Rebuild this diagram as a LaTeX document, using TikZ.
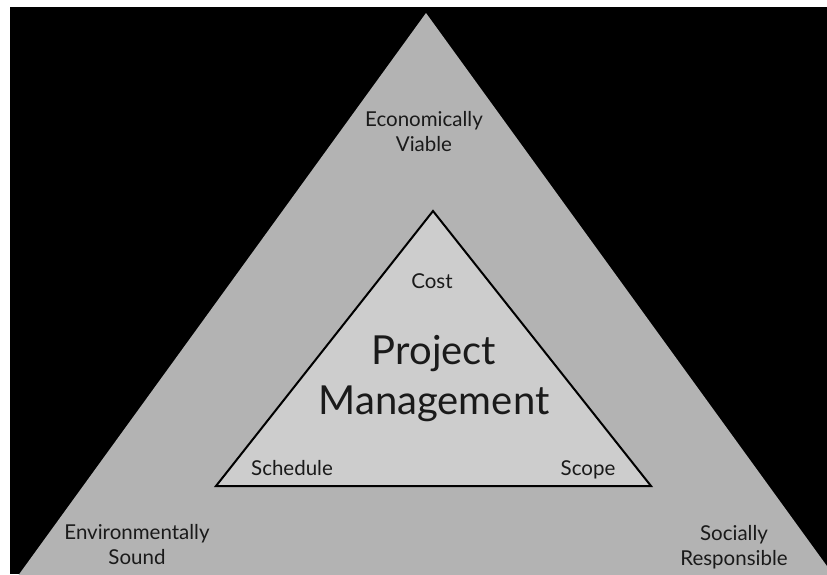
\documentclass[tikz,border=0pt]{standalone}
\usepackage{fontspec}
\setmainfont{Lato}
\definecolor{outergray}{HTML}{B3B3B3}
\definecolor{innergray}{HTML}{CDCDCD}
\definecolor{inktext}{HTML}{1A1A1A}
\begin{document}
\begin{tikzpicture}[x=1pt,y=-1pt,
  smalllabel/.style={text=inktext,font=\fontsize{20.5}{25}\selectfont,align=center,inner sep=0pt},
  biglabel/.style={text=inktext,font=\fontsize{40}{50}\selectfont,align=center,inner sep=0pt}]
\useasboundingbox (0,0) rectangle (827,574);
\fill[white] (0,0) rectangle (827,574);
\fill[black] (10,7) rectangle (827,574);
\begin{scope}
\clip (10,7) rectangle (827,574);
\fill[outergray] (426,13) -- (426-0.725*600,613) -- (426+0.725*600,613) -- cycle;
\end{scope}
\draw[line width=2pt,fill=innergray,line join=miter] (433,211) -- (216,486) -- (651,486) -- cycle;
\node[smalllabel] (econ) at (424,132) {Economically\\Viable};
\node[smalllabel] (env) at (137,545) {Environmentally\\Sound};
\node[smalllabel] (soc) at (734,547) {Socially\\Responsible};
\node[smalllabel,anchor=base] (cost) at (432,288) {Cost};
\node[smalllabel,anchor=base] (sched) at (292,475) {Schedule};
\node[smalllabel,anchor=base] (scope) at (588,475) {Scope};
\node[biglabel] (pm) at (434,379) {Project\\Management};
\end{tikzpicture}
\end{document}
